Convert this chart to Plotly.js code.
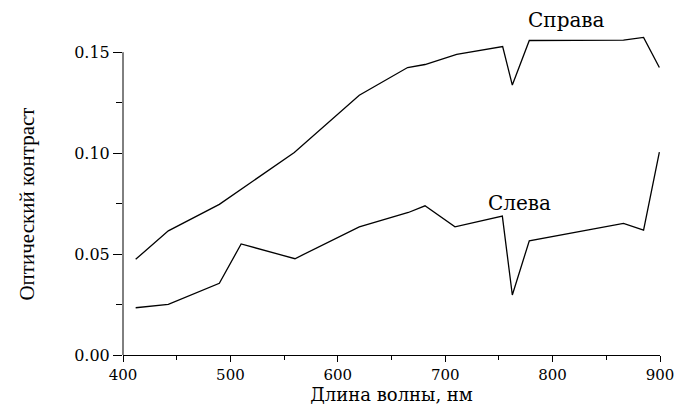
<!DOCTYPE html>
<html><head><meta charset="utf-8">
<script src="https://cdn.plot.ly/plotly-3.0.1.min.js"></script>
<style>body{margin:0;background:#fff}#c{width:679px;height:405px}</style>
</head><body><div id="c"></div>
<script>
const wlRight = [411.8, 442.2, 489.7, 559.5, 620, 665, 681.2, 710.7, 753.5, 762.5, 778.3, 866, 884.7, 899.4];
const valRight = [0.0474, 0.0615, 0.0746, 0.1003, 0.1287, 0.1424, 0.1439, 0.1489, 0.1528, 0.1337, 0.1558, 0.1560, 0.1573, 0.1424];
const wlLeft = [411.8, 442.2, 489.7, 510, 560.1, 620, 665.7, 681.2, 709.1, 753.2, 762.5, 778.3, 866, 884.7, 899.4];
const valLeft = [0.0234, 0.0251, 0.0355, 0.0550, 0.0477, 0.0635, 0.0706, 0.0739, 0.0635, 0.0688, 0.0297, 0.0566, 0.0652, 0.0619, 0.1005];
const labelRight = 'Справа';
const labelLeft = 'Слева';
const xTitle = 'Длина волны, нм';
const yTitle = 'Оптический контраст';

const wide = 'DejaVu Serif';
const narrow = 'Liberation Serif';
const traces = [
  {x: wlRight, y: valRight, type: 'scatter', mode: 'lines', line: {color: '#000', width: 1.3}, name: labelRight},
  {x: wlLeft, y: valLeft, type: 'scatter', mode: 'lines', line: {color: '#000', width: 1.3}, name: labelLeft}
];
const layout = {
  width: 679, height: 405,
  margin: {l: 123, r: 19, t: 32, b: 50},
  paper_bgcolor: '#fff', plot_bgcolor: '#fff',
  showlegend: false,
  font: {family: wide, color: '#000', size: 15},
  xaxis: {
    range: [400, 900], dtick: 100, tick0: 400,
    showgrid: false, zeroline: false,
    showline: true, linecolor: '#000', linewidth: 1,
    ticks: 'outside', ticklen: 6, tickcolor: '#000', tickwidth: 1,
    minor: {ticks: 'outside', dtick: 50, ticklen: 4, tickcolor: '#000', tickwidth: 1},
    tickfont: {family: wide, size: 15, color: '#000'},
    title: {text: xTitle, font: {family: wide, size: 18, color: '#000'}, standoff: 1}
  },
  yaxis: {
    range: [0, 0.16], dtick: 0.05, tick0: 0, tickformat: '.2f',
    showgrid: false, zeroline: false, showline: false,
    ticks: 'outside', ticklen: 9, tickcolor: '#000', tickwidth: 1,
    minor: {ticks: 'outside', dtick: 0.025, ticklen: 6, tickcolor: '#000', tickwidth: 1},
    tickfont: {family: wide, size: 16, color: '#000'}
  },
  shapes: [
    {type: 'line', xref: 'paper', yref: 'y', x0: 0, x1: 0, y0: 0, y1: 0.15, line: {color: '#000', width: 1}}
  ],
  annotations: [
    {x: -0.1788, y: 0.075, xref: 'paper', yref: 'y', text: yTitle, textangle: -90, showarrow: false,
     xanchor: 'center', yanchor: 'middle', font: {family: narrow, size: 21, color: '#000'}},
    {x: 813, y: 1.037, xref: 'x', yref: 'paper', text: labelRight, showarrow: false,
     xanchor: 'center', yanchor: 'middle', font: {family: wide, size: 20, color: '#000'}},
    {x: 769, y: 0.0752, xref: 'x', yref: 'y', text: labelLeft, showarrow: false,
     xanchor: 'center', yanchor: 'middle', font: {family: wide, size: 20, color: '#000'}}
  ]
};
Plotly.newPlot('c', traces, layout, {displayModeBar: false, staticPlot: true});
</script></body></html>
